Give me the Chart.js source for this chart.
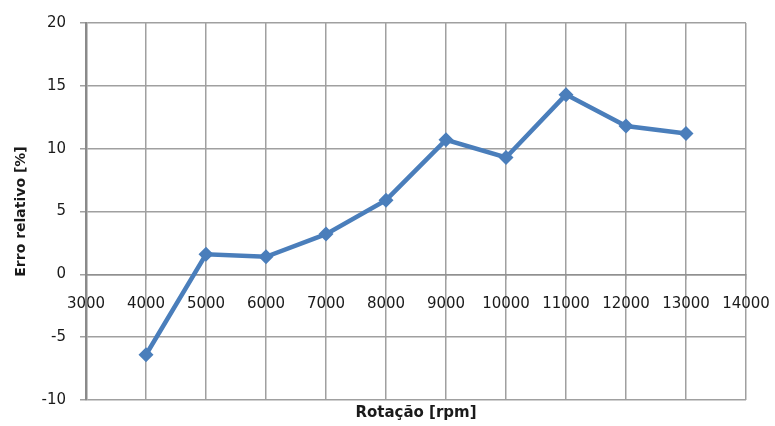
<!DOCTYPE html>
<html>
<head>
<meta charset="utf-8">
<script src="https://cdn.jsdelivr.net/npm/chart.js@4"></script>
<style>
  html, body { margin: 0; padding: 0; background: #fff; }
  #wrap { width: 775px; height: 426px; }
</style>
</head>
<body>
<div id="wrap"><canvas id="c" width="775" height="426"></canvas></div>
<script>
// Rotation speed (rpm) and relative error (%)
const rotacao = [4000, 5000, 6000, 7000, 8000, 9000, 10000, 11000, 12000, 13000];
const erroRelativo = [-6.4, 1.6, 1.4, 3.2, 5.9, 10.7, 9.3, 14.3, 11.8, 11.2];

const xMin = 3000, xMax = 14000, xStep = 1000;
const yMin = -10, yMax = 20, yStep = 5;

const tituloX = 'Rotação [rpm]';
const tituloY = 'Erro relativo [%]';

const gridColor = '#a0a0a0';
const textColor = '#1a1a1a';
const lineColor = '#4a7ebb';
const fontFamily = '"DejaVu Sans", Verdana, sans-serif';

// Draws the x axis title centred under the plot area
const xTitlePlugin = {
  id: 'xTitle',
  afterDraw(chart) {
    const { ctx, chartArea } = chart;
    ctx.save();
    ctx.fillStyle = textColor;
    ctx.font = 'bold 15px ' + fontFamily;
    ctx.textAlign = 'center';
    ctx.textBaseline = 'middle';
    ctx.fillText(tituloX, (chartArea.left + chartArea.right) / 2, chartArea.bottom + 13);
    ctx.restore();
  }
};

new Chart(document.getElementById('c'), {
  type: 'line',
  data: {
    datasets: [{
      data: rotacao.map((x, i) => ({ x: x, y: erroRelativo[i] })),
      borderColor: lineColor,
      backgroundColor: lineColor,
      borderWidth: 4.5,
      pointStyle: 'rectRot',
      pointRadius: 7.5,
      pointHoverRadius: 7.5,
      pointBorderWidth: 0,
      tension: 0,
      fill: false
    }]
  },
  plugins: [xTitlePlugin],
  options: {
    responsive: false,
    animation: false,
    events: [],
    layout: { padding: { top: 21, right: 29, left: 0, bottom: 26 } },
    plugins: {
      legend: { display: false },
      tooltip: { enabled: false },
      title: { display: false }
    },
    scales: {
      x: {
        type: 'linear',
        position: { y: 0 },
        min: xMin,
        max: xMax,
        ticks: {
          stepSize: xStep,
          color: textColor,
          font: { family: fontFamily, size: 15 },
          padding: 17,
          maxRotation: 0,
          autoSkip: false,
          callback: v => String(v)
        },
        grid: { color: gridColor, lineWidth: 1.5, tickLength: 4, drawTicks: true },
        border: { color: '#909090', width: 1.5 },
        afterFit: s => { s.paddingLeft = 0; s.paddingRight = 0; }
      },
      y: {
        min: yMin,
        max: yMax,
        ticks: {
          stepSize: yStep,
          color: textColor,
          font: { family: fontFamily, size: 15 },
          padding: 14
        },
        grid: { color: gridColor, lineWidth: 1.5, tickLength: 6 },
        border: { color: '#8a8a8a', width: 2.5 },
        title: {
          display: true,
          text: tituloY,
          color: textColor,
          font: { family: fontFamily, size: 14, weight: 'bold' },
          padding: { top: 13, bottom: 0 }
        },
        afterFit: s => { s.width = 86; }
      }
    }
  }
});
</script>
</body>
</html>
